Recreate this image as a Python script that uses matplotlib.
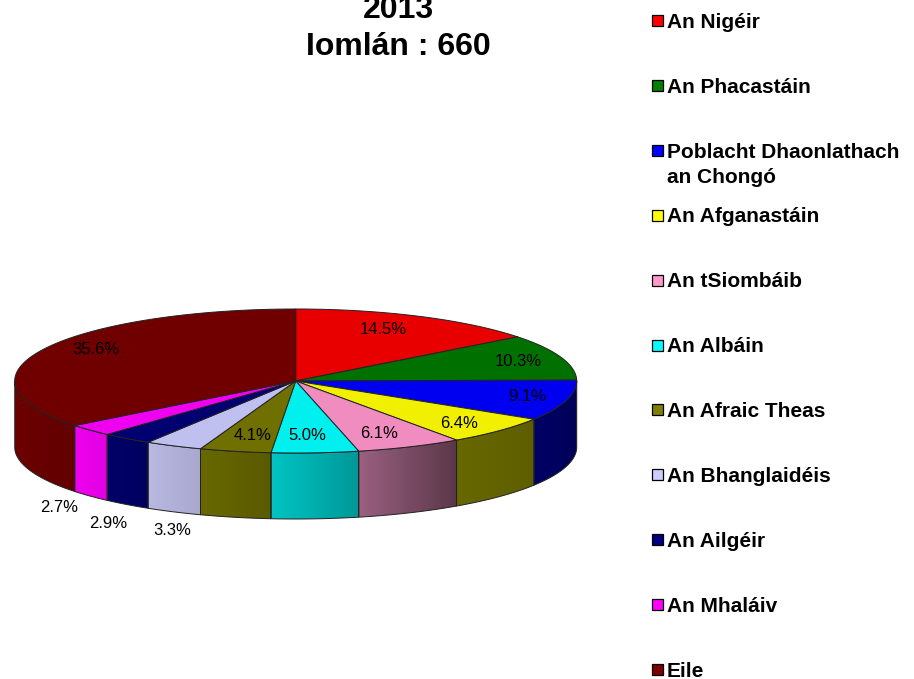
import numpy as np
import matplotlib
matplotlib.use("Agg")
import matplotlib.pyplot as plt
from matplotlib.patches import Polygon, Rectangle
from matplotlib.colors import to_rgb

plt.rcParams['font.family'] = ['Liberation Sans', 'DejaVu Sans']

# ---------------- data ----------------
categories = ["An Nigéir", "An Phacastáin", "Poblacht Dhaonlathach\nan Chongó",
              "An Afganastáin", "An tSiombáib", "An Albáin", "An Afraic Theas",
              "An Bhanglaidéis", "An Ailgéir", "An Mhaláiv", "Eile"]
values = [14.5, 10.3, 9.1, 6.4, 6.1, 5.0, 4.1, 3.3, 2.9, 2.7, 35.6]
title_lines = ["2013", "Iomlán : 660"]

# ---------------- style ----------------
legend_colors = ['#ff0000', '#008000', '#0000ff', '#ffff00', '#ff99cc', '#00ffff',
                 '#808000', '#ccccff', '#000080', '#ff00ff', '#800000']
top_colors = ['#e80000', '#007000', '#0000f0', '#f0f000', '#f08cc0', '#00f0f0',
              '#707000', '#c0c0f0', '#000070', '#f000f0', '#700000']
side_left = ['#c00000', '#005c00', '#000066', '#686800', '#9a6080', '#00c4c4',
             '#686800', '#b8b8e0', '#000068', '#f000f0', '#6c0000']
side_right = ['#b00000', '#005000', '#000058', '#5e5e00', '#5a3848', '#009898',
              '#5a5a00', '#a8a8d0', '#000060', '#e000e0', '#620000']
label_kx = [0.71, 0.84, 0.855, 0.80, 0.73, 0.58, 0.72, 1.01, 1.11, 1.15, 0.79]
label_ky = [0.79, 0.84, 0.82, 0.85, 0.805, 0.765, 0.77, 1.28, 1.32, 1.24, 0.985]
label_outside = [False] * 7 + [True, True, True] + [False]

W, H = 914, 679
CX, CY, RX, RY, DEPTH = 295.7, 381.0, 281.0, 72.0, 66.0

fig = plt.figure(figsize=(W / 100, H / 100), dpi=100)
ax = fig.add_axes([0, 0, 1, 1])
ax.axis('off')

frac = np.array(values) / np.sum(values)
cum = np.concatenate([[0.0], np.cumsum(frac)])
t_start = 90 - 360 * cum[:-1]
t_end = 90 - 360 * cum[1:]


def arc(a, b, n=80, k=1.0):
    ts = np.radians(np.linspace(a, b, n))
    return np.column_stack([CX + RX * k * np.cos(ts), CY - RY * k * np.sin(ts)])


# ---- side faces (front half), with horizontal shading ----
for i in range(len(values)):
    lo, hi = t_end[i], t_start[i]
    for shift in (-360, 0, 360):
        a = max(lo, -180 + shift)
        b = min(hi, 0 + shift)
        if b <= a:
            continue
        top = arc(a, b, 120)
        bot = top[::-1] + np.array([0, DEPTH])
        verts = np.vstack([top, bot])
        x0, x1 = verts[:, 0].min(), verts[:, 0].max()
        y0, y1 = verts[:, 1].min(), verts[:, 1].max()
        c0 = np.array(to_rgb(side_left[i]))
        c1 = np.array(to_rgb(side_right[i]))
        grad = np.linspace(0, 1, 64)[:, None] * (c1 - c0) + c0
        img = grad[None, :, :]
        clip = Polygon(verts, closed=True, facecolor='none', edgecolor='none',
                       transform=ax.transData)
        ax.add_patch(clip)
        im = ax.imshow(img, extent=(x0, x1, y1, y0), aspect='auto',
                       interpolation='bilinear', zorder=1)
        im.set_clip_path(clip)
        ax.add_patch(Polygon(verts, closed=True, fill=False,
                             edgecolor='#222222', lw=0.7, zorder=2))

# ---- top faces ----
for i in range(len(values)):
    pts = np.vstack([[CX, CY], arc(t_start[i], t_end[i], 120)])
    ax.add_patch(Polygon(pts, closed=True, facecolor=top_colors[i],
                         edgecolor='#222222', lw=0.7, zorder=3))

# ---- percentage labels ----
for i, v in enumerate(values):
    mid = np.radians((t_start[i] + t_end[i]) / 2)
    x = CX + RX * label_kx[i] * np.cos(mid)
    y = CY - RY * label_ky[i] * np.sin(mid)
    if label_outside[i]:
        y += DEPTH
    ax.text(x, y, f"{v:.1f}%", ha='center', va='center', fontsize=12,
            color='black', zorder=5)

# ---- title ----
ax.text(398.5, 18, title_lines[0], ha='center', va='baseline', fontsize=23,
        fontweight='bold')
ax.text(398.5, 55, title_lines[1], ha='center', va='baseline', fontsize=23,
        fontweight='bold')

# ---- legend ----
row0, step = 20.5, 64.9
for i, (name, col) in enumerate(zip(categories, legend_colors)):
    y = row0 + step * i
    ax.add_patch(Rectangle((651.5, y - 5.5), 11, 11, facecolor=col,
                           edgecolor='black', lw=0.9))
    for j, line in enumerate(name.split("\n")):
        ax.text(667, y + 7.2 + 25.5 * j, line, ha='left', va='baseline',
                fontsize=15, fontweight='bold', color='black')

ax.set_xlim(0, W)
ax.set_ylim(H, 0)
fig.savefig("out.png", dpi=100)
